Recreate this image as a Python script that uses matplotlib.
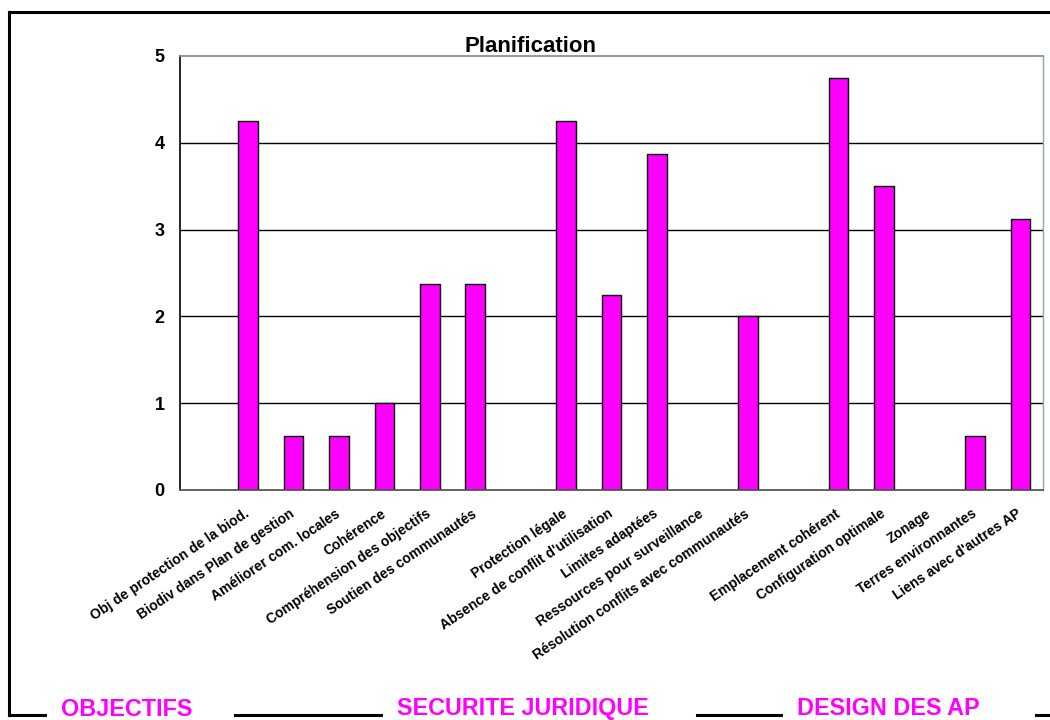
import matplotlib
matplotlib.use("Agg")
import matplotlib.pyplot as plt
from matplotlib.lines import Line2D
from matplotlib.transforms import ScaledTranslation

plt.rcParams['font.family'] = ['Liberation Sans', 'DejaVu Sans']

# Category names (blank strings are spacer slots between the three groups)
categories = [
    "",
    "Obj de protection de la biod.",
    "Biodiv dans Plan de gestion",
    "Améliorer com. locales",
    "Cohérence",
    "Compréhension des objectifs",
    "Soutien des communautés",
    "",
    "Protection légale",
    "Absence de conflit d'utilisation",
    "Limites adaptées",
    "Ressources pour surveillance",
    "Résolution conflits avec communautés",
    "",
    "Emplacement cohérent",
    "Configuration optimale",
    "Zonage",
    "Terres environnantes",
    "Liens avec d'autres AP",
]
scores = [
    0,
    4.25, 0.625, 0.625, 1.0, 2.375, 2.375,
    0,
    4.25, 2.25, 3.875, 0.0, 2.0,
    0,
    4.75, 3.5, 0.0, 0.625, 3.125,
]
group_labels = ["OBJECTIFS", "SECURITE JURIDIQUE", "DESIGN DES AP"]
y_ticks = [0, 1, 2, 3, 4, 5]

W, H = 1050, 720
fig = plt.figure(figsize=(W / 100, H / 100), dpi=100)
fig.patch.set_facecolor("white")


def fx(px):
    return px / W


def fy(py):
    return 1 - py / H


ax = fig.add_axes([fx(180), fy(490), fx(1043) - fx(180), fy(56) - fy(490)])
ax.set_facecolor("white")

x = list(range(len(categories)))
# spacer slots have no bar
bar_x = [i for i, c in enumerate(categories) if c]
bar_h = [scores[i] for i in bar_x]
ax.bar(bar_x, bar_h, width=0.43, color="#FF00FF", edgecolor="black",
       linewidth=1.0, zorder=3)

ax.set_xlim(-0.5, len(categories) - 0.5)
ax.set_ylim(0, 5)
ax.set_yticks(y_ticks)
ax.set_yticklabels([str(v) for v in y_ticks], fontsize=13, fontweight="bold")
ax.tick_params(axis="y", length=0, pad=11)

ax.set_xticks(x)
ax.set_xticklabels(categories, rotation=34, ha="right", rotation_mode="anchor",
                   fontsize=10, fontweight="bold")
ax.tick_params(axis="x", length=0, pad=12)
shift = ScaledTranslation(-4 / 100, 0, fig.dpi_scale_trans)
for lbl in ax.get_xticklabels():
    lbl.set_transform(lbl.get_transform() + shift)

for v in [1, 2, 3, 4]:
    ax.axhline(v, color="black", linewidth=1.0, zorder=1)

for side in ax.spines.values():
    side.set_zorder(4)
ax.spines["left"].set_color("black")
ax.spines["left"].set_linewidth(1.2)
ax.spines["bottom"].set_color("#555555")
ax.spines["bottom"].set_linewidth(1.3)
ax.spines["top"].set_color("#7f8a8a")
ax.spines["top"].set_linewidth(1.2)
ax.spines["right"].set_color("#9aa4a4")
ax.spines["right"].set_linewidth(1.0)

fig.text(fx(531), fy(52.5), "Planification", ha="center", va="baseline",
         fontsize=16, fontweight="bold")

# Outer frame: top and left edges, bottom edge broken by the group names
frame_kw = dict(color="black", linewidth=2.2, transform=fig.transFigure)
fig.add_artist(Line2D([fx(9), fx(1050)], [fy(12), fy(12)], **frame_kw))
fig.add_artist(Line2D([fx(9), fx(9)], [fy(12), fy(715)], **frame_kw))
for x0, x1 in [(9, 45), (235, 381), (697, 781), (1036, 1050)]:
    fig.add_artist(Line2D([fx(x0), fx(x1)], [fy(715), fy(715)], **frame_kw))

group_pos = [(127, 715.5), (523, 715.5), (888, 715)]
for name, (gx, gy) in zip(group_labels, group_pos):
    fig.text(fx(gx), fy(gy), name, ha="center", va="baseline", fontsize=16.8,
             fontweight="bold", color="#FF00FF")

fig.savefig("out.png", dpi=100, facecolor="white")
